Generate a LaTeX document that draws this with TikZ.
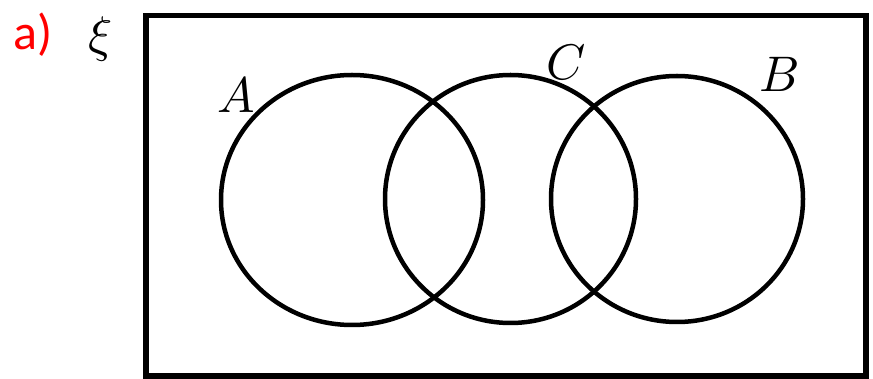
\documentclass[tikz,border=0pt]{standalone}
\usepackage{fontspec}
\usepackage{amsmath}
\usepackage{tikz}
\usetikzlibrary{shapes.geometric}
\newfontfamily\labelfont{Carlito}

\tikzset{
  setcirc/.style={ellipse, draw, line width=4.5pt, inner sep=0pt},
  setname/.style={inner sep=0pt, scale=5},
}

\begin{document}
\begin{tikzpicture}[x=1pt, y=-1pt]
  \useasboundingbox (0,0) rectangle (873,379);
  \node[draw, line width=5.5pt, minimum width=720pt, minimum height=360pt, inner sep=0pt] (U) at (505.75,195.75) {};
  \node[setcirc, minimum width=262pt, minimum height=250pt] (A) at (352,200) {};
  \node[setcirc, minimum width=251pt, minimum height=248pt] (C) at (510.5,199) {};
  \node[setcirc, minimum width=252pt, minimum height=246pt] (B) at (677,199) {};

  \node[setname] (lA) at (236,95) {$A$};
  \node[setname] (lC) at (566,62) {$C$};
  \node[setname] (lB) at (780,74) {$B$};
  \node[setname] (xi) at (101,39) {$\xi$};
  \node[inner sep=0pt, text=red, font=\labelfont\fontsize{50}{56}\selectfont] (part) at (33,35) {a)};
\end{tikzpicture}
\end{document}
